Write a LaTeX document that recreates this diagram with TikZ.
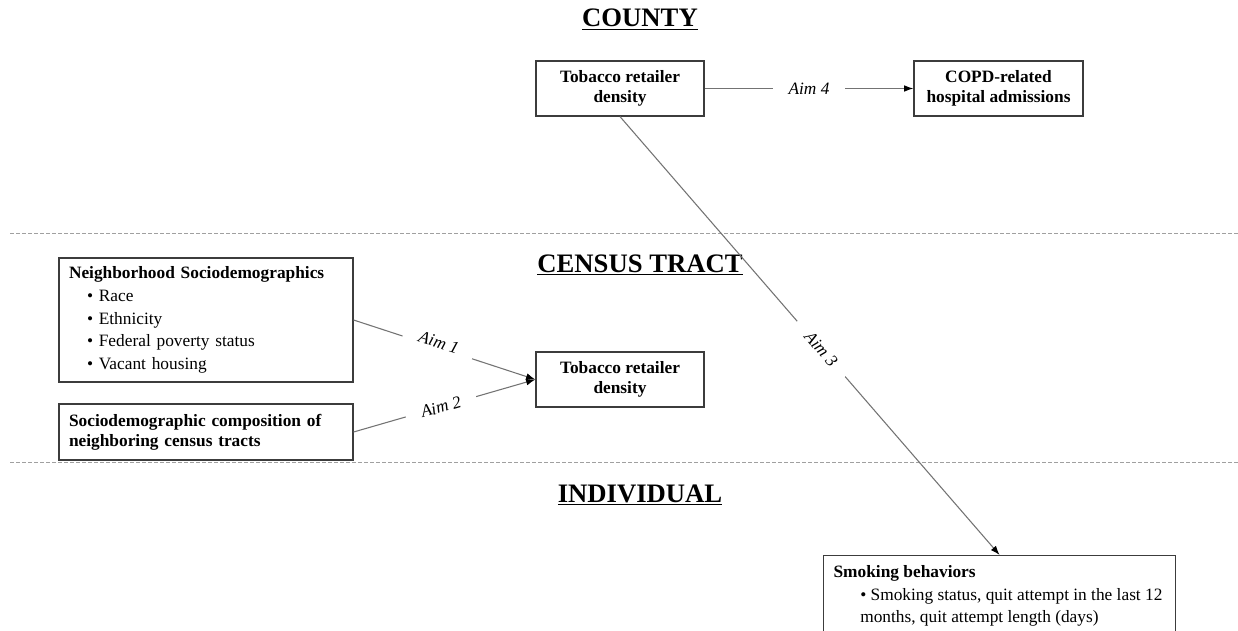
\documentclass[tikz,border=0pt]{standalone}
\usepackage{fontspec}
\setmainfont{Liberation Serif}
\usetikzlibrary{arrows.meta}

\definecolor{boxline}{RGB}{60,60,60}
\definecolor{linkline}{RGB}{115,115,115}
\definecolor{dashline}{RGB}{160,160,160}

\tikzset{
  title/.style={anchor=base, inner sep=0pt, font=\fontsize{20}{24}\selectfont\bfseries},
  box/.style={draw=boxline, line width=0.9pt, fill=white, inner sep=0pt, align=center,
    font=\fontsize{13}{15}\selectfont\bfseries},
  listbox/.style={box, align=left, inner xsep=7.5pt, text width=205.5pt,
    font=\fontsize{13}{17}\selectfont},
  link/.style={draw=linkline, line width=0.8pt, -{Latex[length=7pt,width=5pt,color=black]}},
  aim/.style={fill=white, inner xsep=12pt, inner ysep=4pt, font=\fontsize{13}{15}\selectfont\itshape},
  divider/.style={draw=dashline, line width=0.75pt, dash pattern=on 3pt off 1.5pt}
}

\begin{document}
\begin{tikzpicture}[x=0.75pt,y=0.75pt,yscale=-1,xscale=1]
\useasboundingbox (0,0) rectangle (1238,631);
\clip (0,0) rectangle (1238,631);

%Straight Lines (level dividers)
\draw [divider] (10,233) -- (1238,233) ;
\draw [divider] (10,462) -- (1238,462) ;

% Text Node
\node [title] (county) at (640,27) {\underline{COUNTY}};
% Text Node
\node [title] (tract) at (640,272) {\underline{CENSUS TRACT}};
% Text Node
\node [title] (indiv) at (640,502) {\underline{INDIVIDUAL}};

%Shape: Rectangle
\node [box, minimum width=126pt, minimum height=41.25pt] (ctyTRD) at (620,88.5) {Tobacco retailer\\density};
%Shape: Rectangle
\node [box, minimum width=126.75pt, minimum height=41.25pt] (copd) at (998.5,88.5) {COPD-related\\hospital admissions};
%Shape: Rectangle
\node [box, minimum width=126pt, minimum height=41.25pt] (trTRD) at (620,379.5) {Tobacco retailer\\density};
%Shape: Rectangle
\node [listbox, minimum height=93pt] (nbhd) at (206,320) {\textbf{Neighborhood Sociodemographics}\\
  \hspace*{13.5pt}• Race\\
  \hspace*{13.5pt}• Ethnicity\\
  \hspace*{13.5pt}• Federal poverty status\\
  \hspace*{13.5pt}• Vacant housing};
%Shape: Rectangle
\node [listbox, minimum height=42pt, font=\fontsize{13}{15}\selectfont\bfseries] (comp) at (206,432) {Sociodemographic composition of\\neighboring census tracts};
%Shape: Rectangle
\node [box, anchor=north west, align=left, inner sep=7.5pt, font=\fontsize{13}{17}\selectfont\mdseries] (smoke) at (823,555)
  {\parbox[t][80pt][t]{249pt}{\textbf{Smoking behaviors}\\
  \hspace*{20pt}• Smoking status, quit attempt in the last 12\\
  \hspace*{20pt}months, quit attempt length (days)}};

%Straight Lines
\draw [link] (ctyTRD.east) -- node [aim] {Aim 4} (copd.west) ;
%Straight Lines
\draw [link] (ctyTRD.south) -- node [aim, rotate=-49.2, pos=0.53] {Aim 3} (smoke.north) ;
%Straight Lines
\draw [link] (nbhd.east) -- node [aim, rotate=-18, pos=0.46, yshift=4] {Aim 1} (trTRD.west) ;
%Straight Lines
\draw [link] (comp.east) -- node [aim, rotate=16, pos=0.48] {Aim 2} (trTRD.west) ;

\end{tikzpicture}
\end{document}
